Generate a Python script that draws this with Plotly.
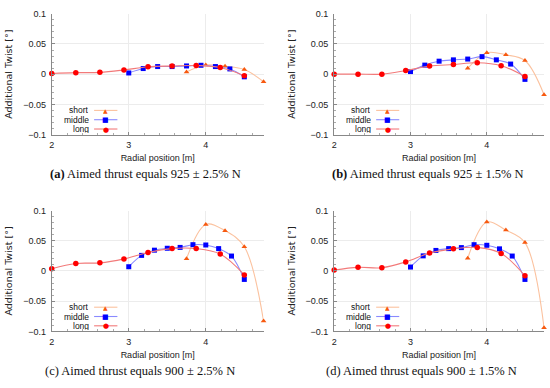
import plotly.graph_objects as go

# ---------------- data ----------------
long_x = [2.0, 2.3125, 2.625, 2.9375, 3.25, 3.5625, 3.875, 4.1875, 4.5]
mid_x_ab = [3.0, 3.1875, 3.375, 3.5625, 3.75, 3.9375, 4.125, 4.3125, 4.5]
mid_x_cd = [3.0, 3.1667, 3.3333, 3.5, 3.6667, 3.8333, 4.0, 4.1667, 4.3333, 4.5]
short_x = [3.75, 4.0, 4.25, 4.5, 4.75]

a_long = [0.001, 0.0025, 0.003, 0.007, 0.0122, 0.0135, 0.0142, 0.011, -0.0025]
a_mid = [0.002, 0.0093, 0.0126, 0.0126, 0.0136, 0.0147, 0.0126, 0.0087, -0.0044]
a_short = [0.0038, 0.0152, 0.013, 0.0077, -0.0125]

b_long = [0.0, 0.0, 0.0, 0.006, 0.0134, 0.016, 0.0188, 0.014, -0.0038]
b_mid = [0.0043, 0.015, 0.0215, 0.0237, 0.025, 0.029, 0.0237, 0.0167, -0.0086]
b_short = [0.0097, 0.0355, 0.032, 0.0226, -0.034]

c_long = [0.0038, 0.0124, 0.0134, 0.02, 0.0306, 0.037, 0.037, 0.028, -0.0065]
c_mid = [0.007, 0.0258, 0.0344, 0.0376, 0.039, 0.0435, 0.043, 0.037, 0.0247, -0.014]
c_short = [0.0204, 0.077, 0.0667, 0.04, -0.083]

d_long = [0.0016, 0.006, 0.0054, 0.015, 0.0296, 0.0366, 0.039, 0.029, -0.008]
d_mid = [0.0065, 0.025, 0.034, 0.037, 0.0387, 0.0435, 0.0425, 0.0366, 0.0247, -0.014]
d_short = [0.021, 0.081, 0.0677, 0.047, -0.094]

captions = [
    "<b>(a)</b> Aimed thrust equals 925 ± 2.5% N",
    "<b>(b)</b> Aimed thrust equals 925 ± 1.5% N",
    "(c) Aimed thrust equals 900 ± 2.5% N",
    "(d) Aimed thrust equals 900 ± 1.5% N",
]
series_names = ["short", "middle", "long"]

panels = [
    (short_x, a_short, mid_x_ab, a_mid, long_x, a_long),
    (short_x, b_short, mid_x_ab, b_mid, long_x, b_long),
    (short_x, c_short, mid_x_cd, c_mid, long_x, c_long),
    (short_x, d_short, mid_x_cd, d_mid, long_x, d_long),
]

# ---------------- style ----------------
W, H = 550, 388
line_cols = {"short": "#fbc29f", "middle": "#8a8aff", "long": "#f27a7a"}
mark_cols = {"short": "#f7590f", "middle": "#0000ff", "long": "#ff0000"}
symbols = {"short": "triangle-up", "middle": "square", "long": "circle"}
msize = {"short": 5, "middle": 5, "long": 5.5}
glyphs = {"short": "▲", "middle": "■", "long": "●"}

# plot areas in pixels (x0, x1, ytop, ybottom)
areas = [
    (49, 262, 9, 133),
    (333, 544, 9, 133),
    (49, 262, 211, 335),
    (333, 544, 211, 335),
]
caption_pos = [(143, 173), (427, 173), (138, 376), (421, 376)]

tick_font = dict(family="Liberation Sans, Arial, sans-serif", size=9, color="#222")
xtitle_font = dict(family="Liberation Sans, Arial, sans-serif", size=9, color="#222")
ytitle_font = dict(family="DejaVu Sans, sans-serif", size=9.5, color="#222")

fig = go.Figure()
layout = dict(
    width=W, height=H, margin=dict(l=0, r=0, t=0, b=0),
    paper_bgcolor="white", plot_bgcolor="white", showlegend=False,
)
annotations = []
shapes = []

for i, (panel, area) in enumerate(zip(panels, areas)):
    sx, sy, mx, my, lx, ly = panel
    k = "" if i == 0 else str(i + 1)
    xa, ya = "x" + k, "y" + k
    x0, x1, yt, yb = area
    for name, xs, ys in (("short", sx, sy), ("middle", mx, my), ("long", lx, ly)):
        fig.add_trace(go.Scatter(
            x=xs, y=ys, mode="lines+markers", name=name,
            line=dict(color=line_cols[name], width=1.1, shape="spline", smoothing=1),
            marker=dict(color=mark_cols[name], symbol=symbols[name], size=msize[name], line=dict(width=0)),
            xaxis=xa, yaxis=ya, cliponaxis=False,
        ))
    layout["xaxis" + k] = dict(
        domain=[x0 / W, x1 / W], anchor=ya, range=[2, 4.75],
        tickmode="linear", tick0=2, dtick=1, ticks="inside", ticklen=3, tickcolor="#888",
        minor=dict(dtick=0.2, tick0=2, ticks="inside", ticklen=2, tickcolor="#aaa", showgrid=False),
        showgrid=True, gridcolor="#ececec", gridwidth=1,
        showline=True, linecolor="#888", linewidth=1, mirror=False, zeroline=False,
        tickfont=tick_font, ticklabelstandoff=2,
        title=dict(text="Radial position [m]", font=xtitle_font, standoff=5),
    )
    layout["yaxis" + k] = dict(
        domain=[1 - yb / H, 1 - yt / H], anchor=xa, range=[-0.1, 0.1],
        tickmode="linear", tick0=0, dtick=0.05, ticks="inside", ticklen=3, tickcolor="#888",
        minor=dict(dtick=0.01, tick0=0, ticks="inside", ticklen=2, tickcolor="#aaa", showgrid=False),
        showgrid=True, gridcolor="#ececec", gridwidth=1,
        showline=True, linecolor="#888", linewidth=1, mirror=False, zeroline=False,
        tickfont=tick_font, ticklabelstandoff=3,
        title=dict(text="Additional Twist [°]", font=ytitle_font, standoff=8),
    )
    # legend (text right-aligned, sample line + marker to the right)
    rows = [0.2, 0.123, 0.046]
    for name, ry in zip(series_names, rows):
        annotations.append(dict(
            xref=xa + " domain", yref=ya + " domain", x=0.18, y=ry,
            xanchor="right", yanchor="middle", text=name, showarrow=False,
            height=8, borderpad=0,
            font=dict(family="Liberation Sans, Arial, sans-serif", size=8.5, color="#111"),
        ))
        shapes.append(dict(
            type="line", xref=xa + " domain", yref=ya + " domain",
            x0=0.2, x1=0.31, y0=ry, y1=ry,
            line=dict(color=line_cols[name], width=1.1),
        ))
        annotations.append(dict(
            xref=xa + " domain", yref=ya + " domain", x=0.255, y=ry,
            xanchor="center", yanchor="middle", text=glyphs[name], showarrow=False,
            height=7, borderpad=0,
            font=dict(family="DejaVu Sans", size=6 if name == "short" else 7, color=mark_cols[name]),
        ))
    cx, cy = caption_pos[i]
    annotations.append(dict(
        xref="paper", yref="paper", x=cx / W, y=1 - cy / H,
        xanchor="center", yanchor="middle", text=captions[i], showarrow=False,
        font=dict(family="Liberation Serif, Times New Roman, serif", size=12.5, color="#111"),
    ))

layout["annotations"] = annotations
layout["shapes"] = shapes
fig.update_layout(**layout)
fig.write_html(
    "out.html",
    config={"displayModeBar": False},
    post_script="document.body.style.margin='0';document.body.style.padding='0';",
)
